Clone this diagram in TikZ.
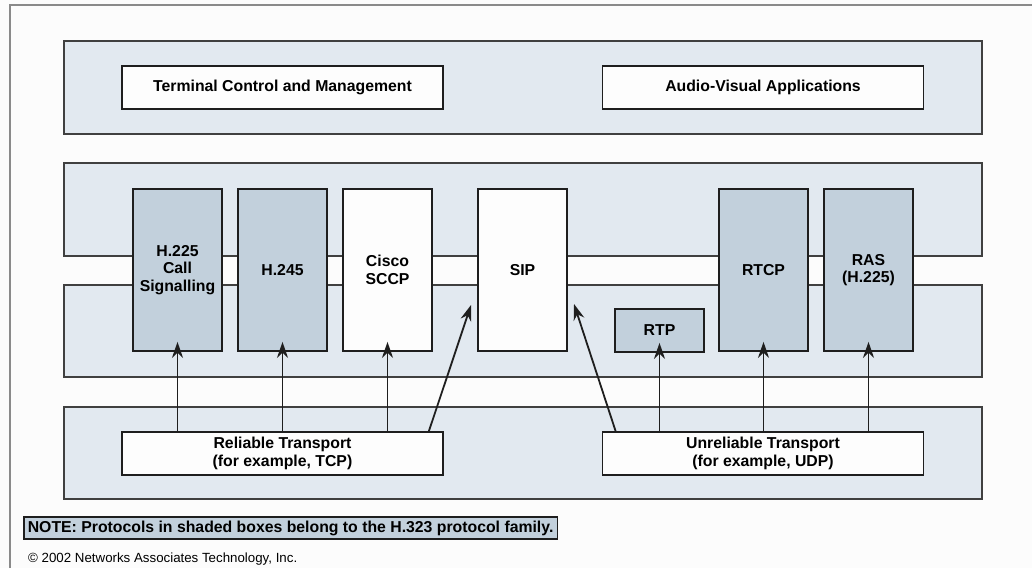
\documentclass[tikz,border=0pt]{standalone}
\usepackage{fontspec}
\setmainfont{Liberation Sans}
\usetikzlibrary{arrows.meta,positioning}
\definecolor{paper}{HTML}{FCFCFC}
\definecolor{ink}{HTML}{1E1E1E}
\definecolor{framegray}{HTML}{8A8A8A}
\definecolor{bandbg}{HTML}{E2E9F0}
\definecolor{h323bg}{HTML}{C2D0DC}
\definecolor{boxwhite}{HTML}{FDFDFD}
\newcommand{\boxfont}{\fontsize{15.8}{17.5}\selectfont\bfseries}
\tikzset{
  band/.style={draw=ink!85,fill=bandbg,line width=1.4pt},
  appbox/.style={draw=ink,fill=boxwhite,line width=1.8pt,
                 minimum width=321pt,minimum height=43pt,
                 align=center,font=\boxfont,inner sep=2pt},
  protobox/.style={draw=ink,fill=boxwhite,line width=1.8pt,
                   minimum width=89pt,minimum height=162pt,
                   align=center,font=\boxfont,inner sep=2pt},
  shaded/.style={fill=h323bg},
  notebox/.style={draw=ink,fill=h323bg,line width=1.6pt,
                  inner xsep=4pt,inner ysep=3.5pt,font=\boxfont},
  uparr/.style={-{Stealth[length=16pt,width=11pt]},line width=1.8pt,color=ink}
}

\begin{document}
\begin{tikzpicture}[x=1pt,y=-1pt]
  \useasboundingbox[fill=paper] (0,0) rectangle (1032,568);
  \draw[framegray,line width=1.2pt] (10,568) -- (10,5) -- (1032,5);

  \draw[band] (64,41) rectangle (982,134);
  \draw[band] (64,163) rectangle (982,256);
  \draw[band] (64,285) rectangle (982,377);
  \draw[band] (64,407) rectangle (982,499);

  \node[appbox] (tcm) at (282.5,87.5) {Terminal Control and Management};
  \node[appbox] (avapp) at (763,87.5) {Audio-Visual Applications};
  \node[appbox] (rel) at (282.5,453.5) {Reliable Transport\\(for example, TCP)};
  \node[appbox] (unrel) at (763,453.5) {Unreliable Transport\\(for example, UDP)};

  \node[protobox,shaded] (h225) at (177.5,270) {H.225\\Call\\Signalling};
  \node[protobox,shaded] (h245) at (282.5,270) {H.245};
  \node[protobox] (sccp) at (387.5,270) {Cisco\\SCCP};
  \node[protobox] (sip) at (522.5,270) {SIP};
  \node[protobox,shaded,minimum height=43pt] (rtp) at (659.5,330.5) {RTP};
  \node[protobox,shaded] (rtcp) at (763.5,270) {RTCP};
  \node[protobox,shaded] (ras) at (868.5,270) {RAS\\(H.225)};

  \foreach \p in {h225,h245,sccp}
    \draw[uparr] (rel.north -| \p.south) -- ([yshift=10pt]\p.south);
  \foreach \p in {rtp,rtcp,ras}
    \draw[uparr] (unrel.north -| \p.south) -- ([yshift=10pt]\p.south);

  \coordinate (sipin1) at (471,305);
  \coordinate (sipin2) at (574,304);
  \draw[uparr] ([xshift=-15pt]rel.north east) -- (sipin1);
  \draw[uparr] ([xshift=14pt]unrel.north west) -- (sipin2);

  \node[notebox,anchor=west] (note) at (23,528)
    {NOTE: Protocols in shaded boxes belong to the H.323 protocol family.};
  \node[anchor=west,inner sep=0pt,font=\fontsize{13.3}{15}\selectfont] (copy) at (28,559)
    {\textcopyright\ 2002 Networks Associates Technology, Inc.};
\end{tikzpicture}
\end{document}
